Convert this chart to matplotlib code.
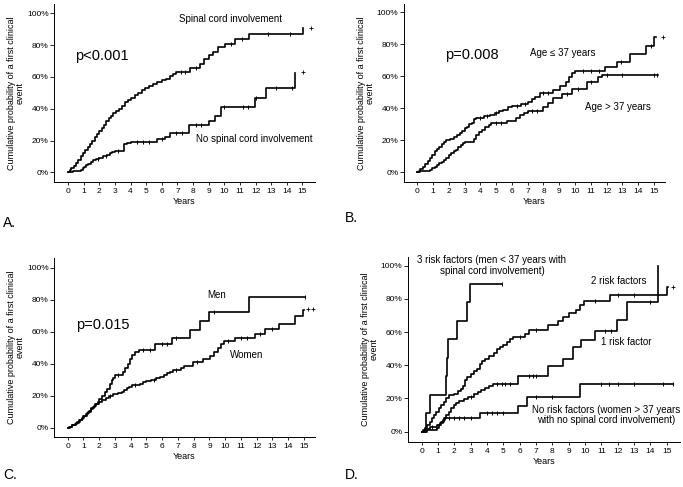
import numpy as np
import matplotlib
matplotlib.use("Agg")
import matplotlib.pyplot as plt

plt.rcParams['font.family'] = ['Liberation Sans', 'DejaVu Sans']

# ---- Panel A: spinal cord involvement ----
sc_t = [0, 0.1, 0.2, 0.35, 0.5, 0.65, 0.8, 0.95, 1.1, 1.25, 1.4, 1.55, 1.7, 1.85, 2.0, 2.15,
        2.3, 2.45, 2.6, 2.75, 2.9, 3.05, 3.25, 3.45, 3.65, 3.85, 4.05, 4.25, 4.45, 4.7, 4.95,
        5.2, 5.45, 5.7, 6.0, 6.25, 6.5, 6.7, 6.9, 7.8, 8.46, 8.67, 9.0, 9.3, 9.6, 10.06, 10.7,
        11.6, 15.05]
sc_p = [0, 1.5, 3, 4, 6, 8, 10, 12, 14, 16, 18, 20, 22, 24, 26, 28,
        30, 32, 34, 35.5, 37, 38.5, 40, 42, 44, 45.5, 47, 48.5, 50, 51.5, 53,
        54.5, 55.5, 57, 58, 59, 60.5, 62, 63.3, 65.4, 68, 71.3, 73.8, 75.8, 78.6, 81, 83.6,
        86.8, 91]
sc_cens = [7.2, 7.5, 8.2, 10.4, 11.1, 12.8, 14.2]

ns_t = [0, 0.15, 0.3, 0.85, 0.95, 1.05, 1.15, 1.3, 1.45, 1.6, 1.8, 2.0, 2.25, 2.5, 2.65, 2.8,
        3.0, 3.55, 3.75, 4.0, 5.7, 6.2, 6.5, 7.76, 9.03, 9.37, 9.78, 11.98, 12.68, 14.54]
ns_p = [0, 0.5, 1, 1.5, 2.5, 3.5, 4.5, 5.5, 6.5, 7.5, 8.5, 9.3, 10, 11, 12, 13,
        13.6, 17.5, 18.2, 19.3, 20.8, 22.5, 24.9, 29.7, 32.5, 35.5, 41.3, 46.5, 52.8, 62.5]
ns_cens = [1.9, 2.4, 3.2, 4.4, 4.8, 5.2, 6.0, 6.9, 7.3, 8.2, 8.5, 10.0, 11.2, 11.5, 12.0, 13.3, 14.3]

# ---- Panel B: age ----
yg_t = [0, 0.1, 0.2, 0.35, 0.5, 0.65, 0.8, 0.95, 1.1, 1.25, 1.4, 1.55, 1.7, 1.85, 2.1, 2.3,
        2.5, 2.7, 2.85, 3.0, 3.15, 3.3, 3.45, 3.6, 3.75, 4.2, 4.6, 4.9, 5.2, 5.45, 5.75, 6.0,
        6.6, 7.0, 7.3, 7.46, 7.78, 8.62, 9.04, 9.4, 9.61, 9.78, 9.99, 11.9, 12.63, 13.47,
        14.5, 15.03]
yg_p = [0, 1, 2, 3, 5, 7, 9, 11, 13, 14.5, 16, 17.5, 19, 20.3, 21, 22,
        23, 24.5, 26, 27.5, 28.5, 30, 31, 33, 34, 35, 36, 37, 38, 39, 40.5, 41.5,
        42.5, 44, 45.5, 47, 49.8, 51.4, 53.9, 56.6, 59.8, 61.9, 63.3, 66, 69.1, 74.2,
        79.2, 84.5]
yg_cens = [4.0, 4.4, 5.0, 6.3, 6.8, 8.0, 8.3, 10.5, 11.0, 11.5, 12.9, 14.8]

od_t = [0, 0.15, 0.4, 0.8, 0.95, 1.1, 1.25, 1.4, 1.55, 1.7, 1.85, 2.0, 2.15, 2.3, 2.45, 2.6,
        2.75, 2.9, 3.05, 3.6, 3.75, 3.9, 4.1, 4.3, 4.55, 4.7, 5.7, 6.25, 6.5, 6.75, 7.0,
        7.95, 8.28, 8.62, 9.15, 9.78, 10.73, 11.47, 11.68]
od_p = [0, 0.5, 1, 1.5, 2.5, 3.5, 4.5, 5.5, 6.5, 7.5, 9, 10.5, 12, 13, 14, 15.5,
        17, 18.3, 19.2, 21, 23, 25, 26.5, 28, 29.5, 30.6, 32.2, 34, 35.5, 37, 38.6,
        41, 43.1, 46.2, 48.9, 52, 56.6, 59.8, 60.8]
od_cens = [5.0, 5.3, 7.3, 7.6, 9.5, 10.2, 11.0, 12.0, 13.0, 15.0, 15.2]

# ---- Panel C: sex ----
men_t = [0, 0.15, 0.3, 0.45, 0.6, 0.75, 0.9, 1.0, 1.15, 1.3, 1.45, 1.6, 1.75, 1.9, 2.0, 2.2,
         2.35, 2.5, 2.7, 2.8, 2.9, 3.0, 3.5, 3.64, 3.85, 3.95, 4.05, 4.3, 4.5, 5.54, 6.6,
         7.76, 8.4, 8.97, 11.52]
men_p = [0, 0.5, 1.5, 2.5, 3.5, 4.5, 5.5, 7, 8.5, 10, 11.5, 13, 14.5, 16, 18, 20,
         22, 24.4, 27, 29.5, 31, 33, 35, 37, 40, 43, 45.5, 47, 48.4, 52, 55.8,
         60.9, 66.5, 72.2, 81.6]
men_cens = [3.2, 4.8, 5.2, 6.0, 6.3, 6.9, 9.3, 15.06]

wom_t = [0, 0.1, 0.3, 0.5, 0.7, 0.9, 1.05, 1.2, 1.35, 1.5, 1.65, 1.8, 2.0, 2.2, 2.4, 2.6,
         2.9, 3.2, 3.45, 3.6, 3.75, 3.9, 4.05, 4.6, 4.8, 5.0, 5.3, 5.6, 5.85, 6.1, 6.3,
         6.5, 6.7, 7.2, 7.4, 7.97, 8.6, 9.03, 9.3, 9.56, 9.73, 9.94, 10.6, 11.88, 12.52,
         13.4, 14.42, 14.95]
wom_p = [0, 0.5, 1.5, 3, 4.5, 6, 7.5, 9, 10.5, 12, 13.5, 15, 16.3, 17.5, 18.8, 20,
         21, 21.5, 22.5, 23.5, 24.5, 25.5, 26.5, 27.5, 28.5, 29.3, 30, 30.8, 31.8, 33, 34,
         35, 36.3, 37.3, 38.6, 40.8, 43.1, 44.8, 47.3, 49.8, 52.5, 54.2, 56, 58.7, 61.5,
         65, 69.6, 73.4]
wom_cens = [2.7, 4.3, 5.5, 6.9, 8.2, 10.2, 11.0, 11.4, 12.2, 13.0]

# ---- Panel D: number of risk factors ----
rf3_t = [0, 0.27, 0.51, 1.49, 1.55, 1.6, 2.14, 2.8, 2.96]
rf3_p = [0, 11.1, 22.2, 33.3, 44.4, 55.6, 66.7, 77.8, 88.9]
rf3_cens = [4.9]

rf2_t = [0, 0.1, 0.2, 0.35, 0.5, 0.6, 0.75, 0.9, 1.05, 1.2, 1.35, 1.5, 1.7, 2.0, 2.2, 2.4,
         2.55, 2.65, 2.75, 3.0, 3.2, 3.4, 3.55, 3.7, 3.9, 4.15, 4.4, 4.6, 4.8, 5.0, 5.2,
         5.4, 5.6, 6.3, 6.6, 7.75, 8.37, 8.67, 9.04, 9.45, 9.69, 9.94, 11.53, 15.0]
rf2_p = [0, 1, 2.5, 4, 6, 8, 10, 12, 14, 16, 18, 20.5, 22, 23, 24.5, 26,
         27.5, 31, 33, 35, 36.5, 38, 40.5, 42.5, 44, 45.5, 47.5, 49.5, 51, 52.5, 54,
         56, 57, 59, 61.4, 64.5, 66.9, 68.9, 71.5, 73.5, 76.1, 78.9, 82.5, 87]
rf2_cens = [6.0, 7.0, 10.6, 12.0, 13.0]

rf1_t = [0, 0.3, 0.95, 1.05, 1.2, 1.35, 1.5, 1.65, 1.8, 1.95, 2.1, 2.3, 2.6, 2.85, 3.2, 3.45,
         3.6, 3.85, 4.1, 4.35, 5.9, 7.75, 8.67, 9.24, 9.73, 10.61, 11.94, 12.59, 14.45]
rf1_p = [0, 1, 2, 4, 6, 8, 10, 12, 14, 16, 17.5, 18.7, 19.7, 21, 22.5, 24,
         25.3, 26.5, 27.5, 29, 33.3, 39.5, 43.8, 50.8, 55.4, 60.5, 67.5, 78, 100]
rf1_cens = [3.0, 4.6, 4.9, 5.1, 5.4, 6.6, 6.8, 7.0, 11.2, 11.6, 14.0]

rf0_t = [0, 0.2, 0.5, 0.95, 1.1, 1.3, 1.45, 3.55, 5.9, 6.45, 9.69]
rf0_p = [0, 1.5, 2.8, 4, 5.5, 7, 8.3, 11, 15.5, 20.7, 28.7]
rf0_cens = [0.6, 1.7, 2.0, 2.3, 2.6, 3.0, 4.0, 4.3, 4.6, 5.0, 7.0, 8.0, 11.0, 11.5, 12.0,
            13.0, 14.8, 15.4]

years = list(range(16))
pct_ticks = [0, 20, 40, 60, 80, 100]
pct_labels = ['0%', '20%', '40%', '60%', '80%', '100%']


def km(ax, t, p, end, cens):
    t = list(t) + [end]
    p = list(p) + [p[-1]]
    ax.step(t, p, where='post', color='black', lw=1.2)
    tt = np.array(t[:-1])
    pp = np.array(p[:-1])
    idx = np.searchsorted(tt, cens, side='right') - 1
    ax.plot(cens, pp[idx], ls='none', marker='|', ms=2.5, mew=0.7, color='black')


def setup(ax, rect_xlim, rect_ylim):
    ax.set_xlim(*rect_xlim)
    ax.set_ylim(*rect_ylim)
    for s in ['top', 'right']:
        ax.spines[s].set_visible(False)
    ax.spines['left'].set_linewidth(0.7)
    ax.spines['bottom'].set_linewidth(0.7)
    ax.set_yticks(pct_ticks)
    ax.set_yticklabels(pct_labels)
    ax.set_xticks(years)
    ax.tick_params(axis='y', length=3, width=0.6, labelsize=6, pad=1)
    ax.tick_params(axis='x', length=2, width=0.6, labelsize=6, pad=2)
    ax.set_xlabel('Years', fontsize=6.5, labelpad=2)
    ax.set_ylabel('Cumulative probability of a first clinical\nevent', fontsize=6.5,
                  labelpad=1.5, linespacing=1.0)


fig = plt.figure(figsize=(6.83, 4.87), dpi=100)

# A
axA = fig.add_axes([0.0791, 0.6263, 0.3821, 0.3655])
setup(axA, (-0.9, 15.8), (-6.1, 105.9))
km(axA, sc_t, sc_p, 15.05, sc_cens)
km(axA, ns_t, ns_p, 14.54, ns_cens)
axA.plot([15.55, 15.05], [91, 63], ls='none', marker='+', ms=3, mew=0.6, color='black')
axA.text(2.17, 73, 'p<0.001', fontsize=10.5, ha='center', va='center')
axA.text(10.4, 96.5, 'Spinal cord involvement', fontsize=7, ha='center', va='center')
axA.text(11.9, 20.8, 'No spinal cord involvement', fontsize=7, ha='center', va='center')

# B
axB = fig.add_axes([0.5915, 0.6263, 0.3821, 0.3655])
setup(axB, (-0.84, 15.7), (-6.1, 105.2))
km(axB, yg_t, yg_p, 15.1, yg_cens)
km(axB, od_t, od_p, 15.27, od_cens)
axB.plot([15.55], [84.5], ls='none', marker='+', ms=3, mew=0.6, color='black')
axB.text(3.44, 73.3, 'p=0.008', fontsize=10.5, ha='center', va='center')
axB.text(9.2, 74.8, 'Age \u2264 37 years', fontsize=7, ha='center', va='center')
axB.text(12.7, 41, 'Age > 37 years', fontsize=7, ha='center', va='center')

# C
axC = fig.add_axes([0.0791, 0.1027, 0.3821, 0.3676])
setup(axC, (-0.87, 15.7), (-5.8, 106))
km(axC, men_t, men_p, 15.06, men_cens)
km(axC, wom_t, wom_p, 15.0, wom_cens)
axC.plot([15.25, 15.6], [74, 74], ls='none', marker='+', ms=3, mew=0.6, color='black')
axC.text(2.2, 64, 'p=0.015', fontsize=10.5, ha='center', va='center')
axC.text(9.46, 83, 'Men', fontsize=7, ha='center', va='center')
axC.text(11.36, 45.4, 'Women', fontsize=7, ha='center', va='center')

# D
axD = fig.add_axes([0.5974, 0.0924, 0.3982, 0.3799])
setup(axD, (-0.84, 15.82), (-6.2, 105.2))
km(axD, rf3_t, rf3_p, 4.9, rf3_cens)
km(axD, rf2_t, rf2_p, 15.1, rf2_cens)
km(axD, rf1_t, rf1_p, 14.45, rf1_cens)
km(axD, rf0_t, rf0_p, 15.4, rf0_cens)
axD.plot([15.4], [87], ls='none', marker='+', ms=3, mew=0.6, color='black')
axD.text(4.3, 100, '3 risk factors (men < 37 years with\nspinal cord involvement)',
         fontsize=7, ha='center', va='center', linespacing=1.1)
axD.text(12.04, 91, '2 risk factors', fontsize=7, ha='center', va='center')
axD.text(12.55, 54, '1 risk factor', fontsize=7, ha='center', va='center')
axD.text(11.3, 10, 'No risk factors (women > 37 years\nwith no spinal cord involvement)',
         fontsize=7, ha='center', va='center', linespacing=1.1)

# panel letters
fig.text(3 / 683, 1 - 223 / 487, 'A.', fontsize=10, va='center')
fig.text(345 / 683, 1 - 218 / 487, 'B.', fontsize=10, va='center')
fig.text(3 / 683, 1 - 475 / 487, 'C.', fontsize=10, va='center')
fig.text(345 / 683, 1 - 475 / 487, 'D.', fontsize=10, va='center')

fig.savefig('out.png', dpi=100)
